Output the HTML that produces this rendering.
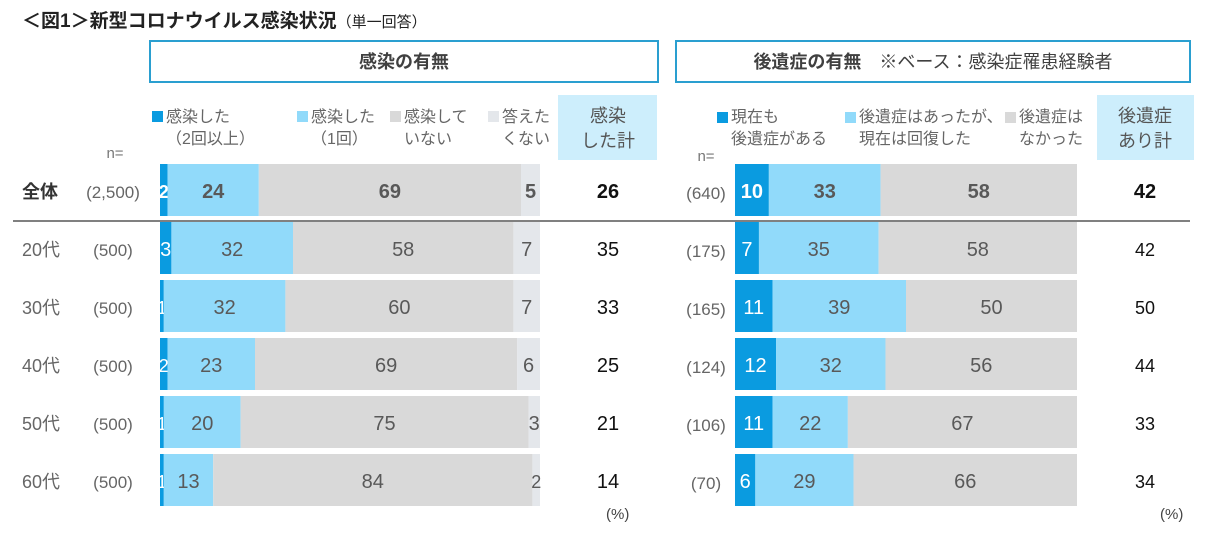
<!DOCTYPE html>
<html><head><meta charset="utf-8"><style>
body{margin:0;background:#fff;width:1212px;height:532px;overflow:hidden}
svg{font-family:"Liberation Sans","Noto Sans CJK JP",sans-serif}
</style></head><body>
<svg id="chart" width="1212" height="532">
<text x="22" y="27" font-size="19" font-weight="bold" fill="#222">＜図1＞新型コロナウイルス感染状況<tspan font-size="15" font-weight="normal">（単一回答）</tspan></text>
<rect x="150" y="41" width="508" height="41" fill="#fff" stroke="#2a9fd0" stroke-width="2"/>
<text x="404" y="68" font-size="18" font-weight="bold" fill="#404040" text-anchor="middle">感染の有無</text>
<rect x="676" y="41" width="514" height="41" fill="#fff" stroke="#2a9fd0" stroke-width="2"/>
<text x="933" y="68" font-size="18" fill="#404040" text-anchor="middle"><tspan font-weight="bold">後遺症の有無</tspan>　※ベース：感染症罹患経験者</text>
<rect x="558" y="95" width="99" height="65" fill="#cdeefc"/>
<text x="608" y="122" font-size="18" fill="#555" text-anchor="middle"><tspan x="608">感染</tspan><tspan x="608" dy="25">した計</tspan></text>
<rect x="1097" y="95" width="97" height="65" fill="#cdeefc"/>
<text x="1145" y="122" font-size="18" fill="#555" text-anchor="middle"><tspan x="1145">後遺症</tspan><tspan x="1145" dy="25">あり計</tspan></text>
<text x="115" y="158" font-size="15" fill="#777" text-anchor="middle">n=</text>
<text x="706" y="161" font-size="15" fill="#777" text-anchor="middle">n=</text>
<line x1="13" y1="221" x2="660" y2="221" stroke="#808080" stroke-width="2"/>
<line x1="660" y1="221" x2="1190" y2="221" stroke="#808080" stroke-width="2"/>
<text x="606" y="519" font-size="15" fill="#444">(%)</text>
<text x="1160" y="519" font-size="15" fill="#444">(%)</text>
<g id="g"></g>
</svg>
<script>
const rowLabels=["全体","20代","30代","40代","50代","60代"];
const nLeft=["(2,500)","(500)","(500)","(500)","(500)","(500)"];
const nRight=["(640)","(175)","(165)","(124)","(106)","(70)"];
const infMulti=[2,3,1,2,1,1];
const infOnce=[24,32,32,23,20,13];
const infNot=[69,58,60,69,75,84];
const infNoAns=[5,7,7,6,3,2];
const infTotal=[26,35,33,25,21,14];
const aeNow=[10,7,11,12,11,6];
const aeRecovered=[33,35,39,32,22,29];
const aeNone=[58,58,50,56,67,66];
const aeTotal=[42,42,50,44,33,34];
const leftLegend=[["感染した","（2回以上）"],["感染した","（1回）"],["感染して","いない"],["答えた","くない"]];
const rightLegend=[["現在も","後遺症がある"],["後遺症はあったが、","現在は回復した"],["後遺症は","なかった"]];
const NS="http://www.w3.org/2000/svg",g=document.getElementById("g");
function mk(t,a,txt){const e=document.createElementNS(NS,t);for(const k in a)e.setAttribute(k,a[k]);if(txt!==undefined)e.textContent=txt;g.appendChild(e);return e;}
const colors=["#0a9be0","#91dafa","#d9d9d9","#e4e7eb"];
const textCol=["#fff","#595959","#595959","#595959"];
const rowY=i=>164+i*58, barH=52;
const lx0=160,lW=380,rx0=735,rW=342;
const llx=[152,297,390,488];
leftLegend.forEach((l,k)=>{
  const s=mk("rect",{x:llx[k],y:111,width:11,height:11,fill:colors[k]});
  
  
  const t=mk("text",{x:llx[k]+14,y:122,"font-size":16,fill:"#666"});
  
  
  t.innerHTML=`<tspan>${l[0]}</tspan><tspan x="${llx[k]+14}" dy="22">${l[1]}</tspan>`;
});
const rlx=[717,845,1005];
rightLegend.forEach((l,k)=>{
  const s=mk("rect",{x:rlx[k],y:112,width:11,height:11,fill:colors[k]});
  
  
  const t=mk("text",{x:rlx[k]+14,y:122,"font-size":16,fill:"#666"});
  
  
  t.innerHTML=`<tspan>${l[0]}</tspan><tspan x="${rlx[k]+14}" dy="22">${l[1]}</tspan>`;
});
function bar(x0,W,vals,y,bold,side){
  const sum=vals.reduce((a,b)=>a+b,0);let x=x0;
  vals.forEach((v,k)=>{
    const w=v/sum*W;
    const r=mk("rect",{x:x,y:y,width:w,height:barH,fill:colors[k]});
    
    
    const fs=w<8?18:20;
    const t=mk("text",{x:x+w/2,y:y+barH/2+8,"font-size":fs,"text-anchor":"middle",fill:textCol[k],"font-weight":bold?"bold":"normal"},String(v));
    
    
    x+=w;
  });
}
rowLabels.forEach((lab,i)=>{
  const y=rowY(i),cy=y+barH/2+8,b=i===0;
  const t1=mk("text",{x:22,y:cy,"font-size":18,fill:b?"#333":"#666","font-weight":b?"bold":"normal"},lab);
  
  
  const t2=mk("text",{x:113,y:cy,"font-size":17,fill:"#666","text-anchor":"middle"},nLeft[i]);
  
  
  bar(lx0,lW,[infMulti[i],infOnce[i],infNot[i],infNoAns[i]],y,b,'left');
  const t3=mk("text",{x:608,y:cy,"font-size":20,fill:"#111","text-anchor":"middle","font-weight":b?"bold":"normal"},String(infTotal[i]));
  
  
  const t4=mk("text",{x:706,y:cy+1,"font-size":17,fill:"#666","text-anchor":"middle"},nRight[i]);
  
  
  bar(rx0,rW,[aeNow[i],aeRecovered[i],aeNone[i]],y,b,'right');
  const t5=mk("text",{x:1145,y:cy,"font-size":b?20:18,fill:"#111","text-anchor":"middle","font-weight":b?"bold":"normal"},String(aeTotal[i]));
  
  
});
</script>
</body></html>
